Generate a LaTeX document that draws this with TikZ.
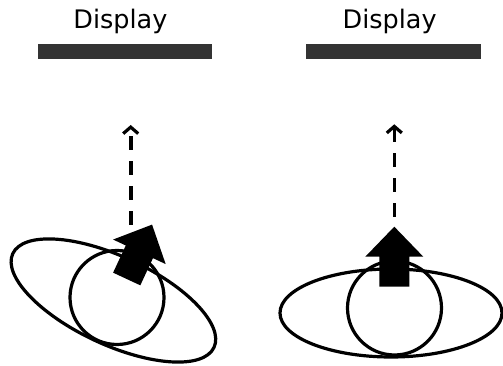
\documentclass[tikz,border=0pt]{standalone}
\usepackage{fontspec}
\setmainfont{DejaVu Sans}
\usetikzlibrary{arrows.meta}
\definecolor{bardark}{HTML}{333333}
\tikzset{
  outline/.style={draw=black, line width=3.2pt},
  screenbar/.style={fill=bardark, draw=none},
  label/.style={font=\fontsize{25.5}{30}\selectfont, anchor=base, inner sep=0pt},
  blockarrow/.style={fill=black, draw=none},
  viewline/.style={draw=black, line width=3.6pt, dash pattern=on 14pt off 11pt,
    -{Straight Barb[length=6.5pt, width=15pt, line width=3.2pt]}},
}
\begin{document}
\begin{tikzpicture}[x=1pt, y=1pt]
  \useasboundingbox (0,0) rectangle (503,366);

  % displays
  \fill[screenbar] (38,307) rectangle (212,322);
  \fill[screenbar] (306,307) rectangle (481,322);
  \node[label] (dispL) at (120.4,337) {Display};
  \node[label] (dispR) at (389.7,337) {Display};

  % tilted body (left)
  \draw[outline, rotate around={-25:(113.4,65.5)}] (113.4,65.5) ellipse [x radius=111pt, y radius=44pt];
  \draw[outline] (117,68.5) circle [radius=47pt];
  \begin{scope}[shift={(126.7,87)}, rotate=-25]
    \fill[blockarrow] (-15,0) -- (15,0) -- (15,30) -- (29,30) -- (0,60) -- (-29,30) -- (-15,30) -- cycle;
  \end{scope}
  \coordinate (baseL) at (130.7,141);
  \coordinate (tipL) at (130.7,241);
  \draw[viewline] (baseL) -- (tipL);

  % upright body (right)
  \draw[outline] (391,53) ellipse [x radius=111pt, y radius=44pt];
  \draw[outline] (394.5,58) circle [radius=47pt];
  \begin{scope}[shift={(394.3,79.3)}]
    \fill[blockarrow] (-15,0) -- (15,0) -- (15,30) -- (29,30) -- (0,60) -- (-29,30) -- (-15,30) -- cycle;
  \end{scope}
  \coordinate (baseR) at (394.3,149.3);
  \coordinate (tipR) at (394.3,241.7);
  \draw[viewline] (baseR) -- (tipR);
\end{tikzpicture}
\end{document}
